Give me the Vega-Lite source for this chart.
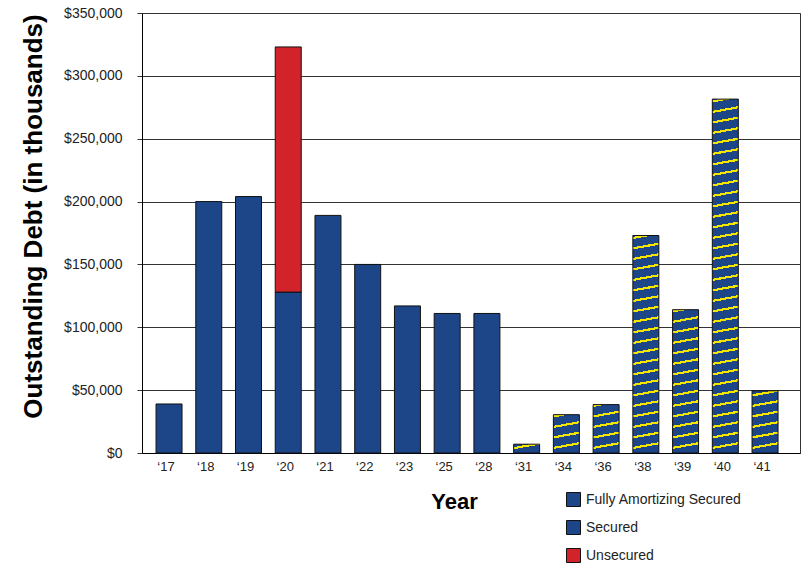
{
"$schema":"https://vega.github.io/schema/vega-lite/v6.json",
"width":658,"height":440,
"autosize":{"type":"none"},
"padding":{"left":142,"top":13,"right":4,"bottom":110},
"background":"white",
"config":{"font":"Liberation Sans","view":{"stroke":"#333","strokeWidth":1}},
"data":{"values":[
{"year":"2017","type":"Secured","debt":39000},
{"year":"2018","type":"Secured","debt":200000},
{"year":"2019","type":"Secured","debt":204000},
{"year":"2020","type":"Secured","debt":128000},
{"year":"2020","type":"Unsecured","debt":195000},
{"year":"2021","type":"Secured","debt":189000},
{"year":"2022","type":"Secured","debt":150000},
{"year":"2023","type":"Secured","debt":117000},
{"year":"2025","type":"Secured","debt":111000},
{"year":"2028","type":"Secured","debt":111000},
{"year":"2031","type":"Fully Amortizing Secured","debt":7000},
{"year":"2034","type":"Fully Amortizing Secured","debt":30500},
{"year":"2036","type":"Fully Amortizing Secured","debt":38500},
{"year":"2038","type":"Fully Amortizing Secured","debt":173000},
{"year":"2039","type":"Fully Amortizing Secured","debt":114000},
{"year":"2040","type":"Fully Amortizing Secured","debt":281500},
{"year":"2041","type":"Fully Amortizing Secured","debt":49500}
]},
"mark":{"type":"bar","stroke":"#111","strokeWidth":1},
"encoding":{
"x":{"field":"year","type":"ordinal","sort":"ascending",
 "scale":{"paddingInner":0.346,"paddingOuter":0.453,"align":0.39},
 "axis":{"title":"Year","labelExpr":"'\u2018' + substring(datum.label, 2, 4)","labelAngle":0,"labelFontSize":13,"labelColor":"#222","labelPadding":7,"labelOffset":-3,"ticks":false,"tickSize":0,"domainColor":"#000","domainWidth":1,"grid":false,
  "titleFontSize":22,"titleFontWeight":"bold","titleColor":"#000","titleX":312,"titleY":55,"titleBaseline":"alphabetic","titleAlign":"center"}},
"y":{"field":"debt","type":"quantitative","stack":"zero",
 "scale":{"domain":[0,350000],"nice":false},
 "axis":{"title":"Outstanding Debt (in thousands)","values":[0,50000,100000,150000,200000,250000,300000,350000],"format":"$,.0f","labelFontSize":14,"labelColor":"#222","labelPadding":15,"tickSize":5,"tickColor":"#333","domainColor":"#000","grid":true,"gridColor":"#333","gridWidth":1,
  "titleFontSize":26,"titleFontWeight":"bold","titleColor":"#000","titleX":-101,"titleY":203,"titleBaseline":"alphabetic","titleAlign":"center"}},
"order":{"field":"type","sort":"ascending"},
"color":{"field":"type","type":"nominal",
 "scale":{"domain":["Fully Amortizing Secured","Secured","Unsecured"],"range":["#1d4689","#1d4689","#d2232a"]},
 "legend":{"title":null,"orient":"none","legendX":424,"legendY":479,"direction":"vertical","symbolType":"square","symbolSize":196,"labelFontSize":14,"labelOffset":5,"rowPadding":9,"padding":0,"labelColor":"#222","symbolStrokeColor":"#111","symbolStrokeWidth":1,"labelLimit":300},
 "condition":[
 {"test":"datum.year === '2031'","value":{"gradient":"linear","x1":0,"y1":1,"x2":-0.532,"y2":0,"stops":[{"offset":0.33,"color":"#1d4689"},{"offset":0.33,"color":"#f5e600"},{"offset":0.53,"color":"#f5e600"},{"offset":0.53,"color":"#1d4689"}]}},
 {"test":"datum.year === '2034'","value":{"gradient":"linear","x1":0,"y1":1,"x2":-0.122,"y2":0,"stops":[
  {"offset":0.1028,"color":"#1d4689"},{"offset":0.1028,"color":"#f5e600"},{"offset":0.1593,"color":"#f5e600"},{"offset":0.1593,"color":"#1d4689"},
  {"offset":0.3727,"color":"#1d4689"},{"offset":0.3727,"color":"#f5e600"},{"offset":0.4292,"color":"#f5e600"},{"offset":0.4292,"color":"#1d4689"},
  {"offset":0.6425,"color":"#1d4689"},{"offset":0.6425,"color":"#f5e600"},{"offset":0.6990,"color":"#f5e600"},{"offset":0.6990,"color":"#1d4689"},
  {"offset":0.9124,"color":"#1d4689"},{"offset":0.9124,"color":"#f5e600"},{"offset":0.9689,"color":"#f5e600"},{"offset":0.9689,"color":"#1d4689"}]}},
 {"test":"datum.year === '2036'","value":{"gradient":"linear","x1":0,"y1":1,"x2":-0.0967,"y2":0,"stops":[
  {"offset":0.0819,"color":"#1d4689"},{"offset":0.0819,"color":"#f5e600"},{"offset":0.1269,"color":"#f5e600"},{"offset":0.1269,"color":"#1d4689"},
  {"offset":0.2968,"color":"#1d4689"},{"offset":0.2968,"color":"#f5e600"},{"offset":0.3418,"color":"#f5e600"},{"offset":0.3418,"color":"#1d4689"},
  {"offset":0.5117,"color":"#1d4689"},{"offset":0.5117,"color":"#f5e600"},{"offset":0.5567,"color":"#f5e600"},{"offset":0.5567,"color":"#1d4689"},
  {"offset":0.7266,"color":"#1d4689"},{"offset":0.7266,"color":"#f5e600"},{"offset":0.7716,"color":"#f5e600"},{"offset":0.7716,"color":"#1d4689"},
  {"offset":0.9416,"color":"#1d4689"},{"offset":0.9416,"color":"#f5e600"},{"offset":0.9866,"color":"#f5e600"},{"offset":0.9866,"color":"#1d4689"}]}},
 {"test":"datum.year === '2041'","value":{"gradient":"linear","x1":0,"y1":1,"x2":-0.0752,"y2":0,"stops":[
  {"offset":0.0639,"color":"#1d4689"},{"offset":0.0639,"color":"#f5e600"},{"offset":0.0991,"color":"#f5e600"},{"offset":0.0991,"color":"#1d4689"},
  {"offset":0.2317,"color":"#1d4689"},{"offset":0.2317,"color":"#f5e600"},{"offset":0.2669,"color":"#f5e600"},{"offset":0.2669,"color":"#1d4689"},
  {"offset":0.3995,"color":"#1d4689"},{"offset":0.3995,"color":"#f5e600"},{"offset":0.4347,"color":"#f5e600"},{"offset":0.4347,"color":"#1d4689"},
  {"offset":0.5673,"color":"#1d4689"},{"offset":0.5673,"color":"#f5e600"},{"offset":0.6025,"color":"#f5e600"},{"offset":0.6025,"color":"#1d4689"},
  {"offset":0.7350,"color":"#1d4689"},{"offset":0.7350,"color":"#f5e600"},{"offset":0.7702,"color":"#f5e600"},{"offset":0.7702,"color":"#1d4689"},
  {"offset":0.9028,"color":"#1d4689"},{"offset":0.9028,"color":"#f5e600"},{"offset":0.9380,"color":"#f5e600"},{"offset":0.9380,"color":"#1d4689"}]}},
 {"test":"datum.year === '2039'","value":{"gradient":"linear","x1":0,"y1":1,"x2":-0.0327,"y2":0,"stops":[
  {"offset":0.0279,"color":"#1d4689"},{"offset":0.0279,"color":"#f5e600"},{"offset":0.0432,"color":"#f5e600"},{"offset":0.0432,"color":"#1d4689"},
  {"offset":0.1011,"color":"#1d4689"},{"offset":0.1011,"color":"#f5e600"},{"offset":0.1164,"color":"#f5e600"},{"offset":0.1164,"color":"#1d4689"},
  {"offset":0.1743,"color":"#1d4689"},{"offset":0.1743,"color":"#f5e600"},{"offset":0.1896,"color":"#f5e600"},{"offset":0.1896,"color":"#1d4689"},
  {"offset":0.2475,"color":"#1d4689"},{"offset":0.2475,"color":"#f5e600"},{"offset":0.2628,"color":"#f5e600"},{"offset":0.2628,"color":"#1d4689"},
  {"offset":0.3206,"color":"#1d4689"},{"offset":0.3206,"color":"#f5e600"},{"offset":0.3359,"color":"#f5e600"},{"offset":0.3359,"color":"#1d4689"},
  {"offset":0.3938,"color":"#1d4689"},{"offset":0.3938,"color":"#f5e600"},{"offset":0.4091,"color":"#f5e600"},{"offset":0.4091,"color":"#1d4689"},
  {"offset":0.4670,"color":"#1d4689"},{"offset":0.4670,"color":"#f5e600"},{"offset":0.4823,"color":"#f5e600"},{"offset":0.4823,"color":"#1d4689"},
  {"offset":0.5402,"color":"#1d4689"},{"offset":0.5402,"color":"#f5e600"},{"offset":0.5555,"color":"#f5e600"},{"offset":0.5555,"color":"#1d4689"},
  {"offset":0.6134,"color":"#1d4689"},{"offset":0.6134,"color":"#f5e600"},{"offset":0.6287,"color":"#f5e600"},{"offset":0.6287,"color":"#1d4689"},
  {"offset":0.6866,"color":"#1d4689"},{"offset":0.6866,"color":"#f5e600"},{"offset":0.7019,"color":"#f5e600"},{"offset":0.7019,"color":"#1d4689"},
  {"offset":0.7598,"color":"#1d4689"},{"offset":0.7598,"color":"#f5e600"},{"offset":0.7751,"color":"#f5e600"},{"offset":0.7751,"color":"#1d4689"},
  {"offset":0.8330,"color":"#1d4689"},{"offset":0.8330,"color":"#f5e600"},{"offset":0.8483,"color":"#f5e600"},{"offset":0.8483,"color":"#1d4689"},
  {"offset":0.9062,"color":"#1d4689"},{"offset":0.9062,"color":"#f5e600"},{"offset":0.9215,"color":"#f5e600"},{"offset":0.9215,"color":"#1d4689"},
  {"offset":0.9794,"color":"#1d4689"},{"offset":0.9794,"color":"#f5e600"},{"offset":0.9947,"color":"#f5e600"},{"offset":0.9947,"color":"#1d4689"}]}},
 {"test":"datum.year === '2038'","value":{"gradient":"linear","x1":0,"y1":1,"x2":-0.0215,"y2":0,"stops":[
  {"offset":0.0184,"color":"#1d4689"},{"offset":0.0184,"color":"#f5e600"},{"offset":0.0285,"color":"#f5e600"},{"offset":0.0285,"color":"#1d4689"},
  {"offset":0.0666,"color":"#1d4689"},{"offset":0.0666,"color":"#f5e600"},{"offset":0.0767,"color":"#f5e600"},{"offset":0.0767,"color":"#1d4689"},
  {"offset":0.1149,"color":"#1d4689"},{"offset":0.1149,"color":"#f5e600"},{"offset":0.1250,"color":"#f5e600"},{"offset":0.1250,"color":"#1d4689"},
  {"offset":0.1632,"color":"#1d4689"},{"offset":0.1632,"color":"#f5e600"},{"offset":0.1733,"color":"#f5e600"},{"offset":0.1733,"color":"#1d4689"},
  {"offset":0.2114,"color":"#1d4689"},{"offset":0.2114,"color":"#f5e600"},{"offset":0.2215,"color":"#f5e600"},{"offset":0.2215,"color":"#1d4689"},
  {"offset":0.2597,"color":"#1d4689"},{"offset":0.2597,"color":"#f5e600"},{"offset":0.2698,"color":"#f5e600"},{"offset":0.2698,"color":"#1d4689"},
  {"offset":0.3079,"color":"#1d4689"},{"offset":0.3079,"color":"#f5e600"},{"offset":0.3180,"color":"#f5e600"},{"offset":0.3180,"color":"#1d4689"},
  {"offset":0.3562,"color":"#1d4689"},{"offset":0.3562,"color":"#f5e600"},{"offset":0.3663,"color":"#f5e600"},{"offset":0.3663,"color":"#1d4689"},
  {"offset":0.4044,"color":"#1d4689"},{"offset":0.4044,"color":"#f5e600"},{"offset":0.4145,"color":"#f5e600"},{"offset":0.4145,"color":"#1d4689"},
  {"offset":0.4527,"color":"#1d4689"},{"offset":0.4527,"color":"#f5e600"},{"offset":0.4628,"color":"#f5e600"},{"offset":0.4628,"color":"#1d4689"},
  {"offset":0.5009,"color":"#1d4689"},{"offset":0.5009,"color":"#f5e600"},{"offset":0.5110,"color":"#f5e600"},{"offset":0.5110,"color":"#1d4689"},
  {"offset":0.5492,"color":"#1d4689"},{"offset":0.5492,"color":"#f5e600"},{"offset":0.5593,"color":"#f5e600"},{"offset":0.5593,"color":"#1d4689"},
  {"offset":0.5975,"color":"#1d4689"},{"offset":0.5975,"color":"#f5e600"},{"offset":0.6076,"color":"#f5e600"},{"offset":0.6076,"color":"#1d4689"},
  {"offset":0.6457,"color":"#1d4689"},{"offset":0.6457,"color":"#f5e600"},{"offset":0.6558,"color":"#f5e600"},{"offset":0.6558,"color":"#1d4689"},
  {"offset":0.6940,"color":"#1d4689"},{"offset":0.6940,"color":"#f5e600"},{"offset":0.7041,"color":"#f5e600"},{"offset":0.7041,"color":"#1d4689"},
  {"offset":0.7422,"color":"#1d4689"},{"offset":0.7422,"color":"#f5e600"},{"offset":0.7523,"color":"#f5e600"},{"offset":0.7523,"color":"#1d4689"},
  {"offset":0.7905,"color":"#1d4689"},{"offset":0.7905,"color":"#f5e600"},{"offset":0.8006,"color":"#f5e600"},{"offset":0.8006,"color":"#1d4689"},
  {"offset":0.8387,"color":"#1d4689"},{"offset":0.8387,"color":"#f5e600"},{"offset":0.8488,"color":"#f5e600"},{"offset":0.8488,"color":"#1d4689"},
  {"offset":0.8870,"color":"#1d4689"},{"offset":0.8870,"color":"#f5e600"},{"offset":0.8971,"color":"#f5e600"},{"offset":0.8971,"color":"#1d4689"},
  {"offset":0.9352,"color":"#1d4689"},{"offset":0.9352,"color":"#f5e600"},{"offset":0.9453,"color":"#f5e600"},{"offset":0.9453,"color":"#1d4689"},
  {"offset":0.9835,"color":"#1d4689"},{"offset":0.9835,"color":"#f5e600"},{"offset":0.9936,"color":"#f5e600"},{"offset":0.9936,"color":"#1d4689"}]}},
 {"test":"datum.year === '2040'","value":{"gradient":"linear","x1":0,"y1":1,"x2":-0.0132,"y2":0,"stops":[
  {"offset":0.0113,"color":"#1d4689"},{"offset":0.0113,"color":"#f5e600"},{"offset":0.0175,"color":"#f5e600"},{"offset":0.0175,"color":"#1d4689"},
  {"offset":0.0410,"color":"#1d4689"},{"offset":0.0410,"color":"#f5e600"},{"offset":0.0472,"color":"#f5e600"},{"offset":0.0472,"color":"#1d4689"},
  {"offset":0.0706,"color":"#1d4689"},{"offset":0.0706,"color":"#f5e600"},{"offset":0.0768,"color":"#f5e600"},{"offset":0.0768,"color":"#1d4689"},
  {"offset":0.1003,"color":"#1d4689"},{"offset":0.1003,"color":"#f5e600"},{"offset":0.1065,"color":"#f5e600"},{"offset":0.1065,"color":"#1d4689"},
  {"offset":0.1300,"color":"#1d4689"},{"offset":0.1300,"color":"#f5e600"},{"offset":0.1362,"color":"#f5e600"},{"offset":0.1362,"color":"#1d4689"},
  {"offset":0.1596,"color":"#1d4689"},{"offset":0.1596,"color":"#f5e600"},{"offset":0.1658,"color":"#f5e600"},{"offset":0.1658,"color":"#1d4689"},
  {"offset":0.1893,"color":"#1d4689"},{"offset":0.1893,"color":"#f5e600"},{"offset":0.1955,"color":"#f5e600"},{"offset":0.1955,"color":"#1d4689"},
  {"offset":0.2190,"color":"#1d4689"},{"offset":0.2190,"color":"#f5e600"},{"offset":0.2252,"color":"#f5e600"},{"offset":0.2252,"color":"#1d4689"},
  {"offset":0.2486,"color":"#1d4689"},{"offset":0.2486,"color":"#f5e600"},{"offset":0.2548,"color":"#f5e600"},{"offset":0.2548,"color":"#1d4689"},
  {"offset":0.2783,"color":"#1d4689"},{"offset":0.2783,"color":"#f5e600"},{"offset":0.2845,"color":"#f5e600"},{"offset":0.2845,"color":"#1d4689"},
  {"offset":0.3080,"color":"#1d4689"},{"offset":0.3080,"color":"#f5e600"},{"offset":0.3142,"color":"#f5e600"},{"offset":0.3142,"color":"#1d4689"},
  {"offset":0.3376,"color":"#1d4689"},{"offset":0.3376,"color":"#f5e600"},{"offset":0.3438,"color":"#f5e600"},{"offset":0.3438,"color":"#1d4689"},
  {"offset":0.3673,"color":"#1d4689"},{"offset":0.3673,"color":"#f5e600"},{"offset":0.3735,"color":"#f5e600"},{"offset":0.3735,"color":"#1d4689"},
  {"offset":0.3970,"color":"#1d4689"},{"offset":0.3970,"color":"#f5e600"},{"offset":0.4032,"color":"#f5e600"},{"offset":0.4032,"color":"#1d4689"},
  {"offset":0.4266,"color":"#1d4689"},{"offset":0.4266,"color":"#f5e600"},{"offset":0.4328,"color":"#f5e600"},{"offset":0.4328,"color":"#1d4689"},
  {"offset":0.4563,"color":"#1d4689"},{"offset":0.4563,"color":"#f5e600"},{"offset":0.4625,"color":"#f5e600"},{"offset":0.4625,"color":"#1d4689"},
  {"offset":0.4860,"color":"#1d4689"},{"offset":0.4860,"color":"#f5e600"},{"offset":0.4922,"color":"#f5e600"},{"offset":0.4922,"color":"#1d4689"},
  {"offset":0.5156,"color":"#1d4689"},{"offset":0.5156,"color":"#f5e600"},{"offset":0.5218,"color":"#f5e600"},{"offset":0.5218,"color":"#1d4689"},
  {"offset":0.5453,"color":"#1d4689"},{"offset":0.5453,"color":"#f5e600"},{"offset":0.5515,"color":"#f5e600"},{"offset":0.5515,"color":"#1d4689"},
  {"offset":0.5750,"color":"#1d4689"},{"offset":0.5750,"color":"#f5e600"},{"offset":0.5812,"color":"#f5e600"},{"offset":0.5812,"color":"#1d4689"},
  {"offset":0.6046,"color":"#1d4689"},{"offset":0.6046,"color":"#f5e600"},{"offset":0.6108,"color":"#f5e600"},{"offset":0.6108,"color":"#1d4689"},
  {"offset":0.6343,"color":"#1d4689"},{"offset":0.6343,"color":"#f5e600"},{"offset":0.6405,"color":"#f5e600"},{"offset":0.6405,"color":"#1d4689"},
  {"offset":0.6640,"color":"#1d4689"},{"offset":0.6640,"color":"#f5e600"},{"offset":0.6702,"color":"#f5e600"},{"offset":0.6702,"color":"#1d4689"},
  {"offset":0.6936,"color":"#1d4689"},{"offset":0.6936,"color":"#f5e600"},{"offset":0.6998,"color":"#f5e600"},{"offset":0.6998,"color":"#1d4689"},
  {"offset":0.7233,"color":"#1d4689"},{"offset":0.7233,"color":"#f5e600"},{"offset":0.7295,"color":"#f5e600"},{"offset":0.7295,"color":"#1d4689"},
  {"offset":0.7530,"color":"#1d4689"},{"offset":0.7530,"color":"#f5e600"},{"offset":0.7592,"color":"#f5e600"},{"offset":0.7592,"color":"#1d4689"},
  {"offset":0.7826,"color":"#1d4689"},{"offset":0.7826,"color":"#f5e600"},{"offset":0.7888,"color":"#f5e600"},{"offset":0.7888,"color":"#1d4689"},
  {"offset":0.8123,"color":"#1d4689"},{"offset":0.8123,"color":"#f5e600"},{"offset":0.8185,"color":"#f5e600"},{"offset":0.8185,"color":"#1d4689"},
  {"offset":0.8420,"color":"#1d4689"},{"offset":0.8420,"color":"#f5e600"},{"offset":0.8482,"color":"#f5e600"},{"offset":0.8482,"color":"#1d4689"},
  {"offset":0.8716,"color":"#1d4689"},{"offset":0.8716,"color":"#f5e600"},{"offset":0.8778,"color":"#f5e600"},{"offset":0.8778,"color":"#1d4689"},
  {"offset":0.9013,"color":"#1d4689"},{"offset":0.9013,"color":"#f5e600"},{"offset":0.9075,"color":"#f5e600"},{"offset":0.9075,"color":"#1d4689"},
  {"offset":0.9310,"color":"#1d4689"},{"offset":0.9310,"color":"#f5e600"},{"offset":0.9372,"color":"#f5e600"},{"offset":0.9372,"color":"#1d4689"},
  {"offset":0.9606,"color":"#1d4689"},{"offset":0.9606,"color":"#f5e600"},{"offset":0.9668,"color":"#f5e600"},{"offset":0.9668,"color":"#1d4689"},
  {"offset":0.9903,"color":"#1d4689"},{"offset":0.9903,"color":"#f5e600"},{"offset":0.9965,"color":"#f5e600"},{"offset":0.9965,"color":"#1d4689"}]}}
 ]}
}
}
